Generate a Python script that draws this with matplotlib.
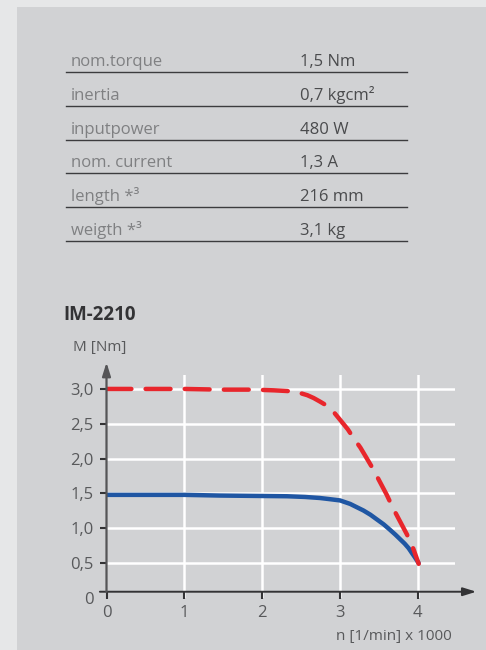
import matplotlib.pyplot as plt
from matplotlib.patches import Rectangle

plt.rcParams['font.family'] = ['Open Sans', 'DejaVu Sans']

# Spec table
spec_labels = ['nom.torque', 'inertia', 'inputpower', 'nom. current', 'length *³', 'weigth *³']
spec_values = ['1,5 Nm', '0,7 kgcm²', '480 W', '1,3 A', '216 mm', '3,1 kg']

# Torque curves (n in 1000 1/min, M in Nm)
peak_n = [0, 0.5, 1, 1.46, 1.89, 2.15, 2.32, 2.42, 2.49, 2.58, 2.66, 2.74, 2.83, 2.91, 3.02,
          3.1, 3.17, 3.26, 3.34, 3.43, 3.51, 3.6, 3.68, 3.77, 3.86, 3.94, 4.01]
peak_m = [3.0, 3.0, 3.0, 2.99, 2.99, 2.98, 2.97, 2.96, 2.94, 2.91, 2.87, 2.82, 2.76, 2.68, 2.53,
          2.42, 2.30, 2.16, 2.01, 1.84, 1.67, 1.48, 1.29, 1.10, 0.91, 0.71, 0.49]
nom_n = [0, 1, 1.46, 2.32, 2.55, 2.74, 2.87, 3.0, 3.13, 3.22, 3.30, 3.39, 3.47, 3.56, 3.64,
         3.71, 3.77, 3.83, 3.88, 3.92, 3.96, 4.01]
nom_m = [1.48, 1.48, 1.47, 1.46, 1.45, 1.435, 1.418, 1.40, 1.35, 1.30, 1.256, 1.195, 1.13, 1.057, 0.98,
         0.91, 0.845, 0.78, 0.716, 0.65, 0.586, 0.5]

y_ticks = [0, 0.5, 1.0, 1.5, 2.0, 2.5, 3.0]
y_ticklabels = ['0', '0,5', '1,0', '1,5', '2,0', '2,5', '3,0']
x_ticks = [0, 1, 2, 3, 4]
x_ticklabels = ['0', '1', '2', '3', '4']

W, H = 486, 650
fig = plt.figure(figsize=(W / 100, H / 100), dpi=100)
fig.patch.set_facecolor('#e6e7e8')
fig.patches.append(Rectangle((17 / W, 0), 1, 1 - 7 / H, transform=fig.transFigure,
                             facecolor='#d1d2d4', edgecolor='none', zorder=-1))

label_col = '#7f8082'
value_col = '#4a4b4d'
dark = '#333335'

# table rows
line_y = [72, 106, 140, 173, 207, 241]
for lab, val, ly in zip(spec_labels, spec_values, line_y):
    yb = 1 - (ly - 6) / H
    fig.text(71 / W, yb, lab, color=label_col, fontsize=12, va='baseline', ha='left')
    fig.text(300 / W, yb, val, color=value_col, fontsize=12, va='baseline', ha='left')
    fig.add_artist(plt.Line2D([66 / W, 407 / W], [1 - ly / H, 1 - ly / H],
                              color='#3c3c3e', lw=1.0, transform=fig.transFigure))

# chart title
fig.text(63 / W, 1 - 320 / H, 'IM-2210', color=dark, fontsize=13.5, fontweight='bold',
         va='baseline', ha='left')

ax = fig.add_axes([106.5 / W, 1 - 598 / H, 348 / W, 223 / H])
ax.set_zorder(3)
ax.set_facecolor('none')
ax.set_xlim(0, 4.47)
ax.set_ylim(0, 3.2)
for s in ax.spines.values():
    s.set_visible(False)

for yv in y_ticks[1:]:
    ax.axhline(yv, color='white', lw=1.8, zorder=1)
for xv in x_ticks[1:]:
    ax.axvline(xv, color='white', lw=1.8, zorder=1)

ax.plot(nom_n, nom_m, color='#1f56a3', lw=3.2, solid_capstyle='round', zorder=3)
ax.plot(peak_n, peak_m, color='#e8262c', lw=3.2, linestyle=(0, (5.6, 3.2)),
        dash_capstyle='round', zorder=4)

# axes drawn as arrows; the x axis sits slightly above zero like in the original
axis_y = 0.09
ax.spines['bottom'].set_position(('data', axis_y))
ax.annotate('', xy=(4.75, axis_y), xytext=(-0.085, axis_y), annotation_clip=False,
            arrowprops=dict(arrowstyle='-|>,head_length=0.8,head_width=0.25', color=dark, lw=1.4,
                            shrinkA=0, shrinkB=0), zorder=5)
ax.annotate('', xy=(0, 3.38), xytext=(0, axis_y), annotation_clip=False,
            arrowprops=dict(arrowstyle='-|>,head_length=0.8,head_width=0.25', color='#555557', lw=1.6,
                            shrinkA=0, shrinkB=0), zorder=5)

ax.set_yticks(y_ticks)
ax.set_yticklabels(y_ticklabels)
ax.set_xticks(x_ticks)
ax.set_xticklabels(x_ticklabels)
ax.tick_params(axis='both', direction='out', length=5, width=1.5, color=dark,
               labelcolor='#58595b', labelsize=12, pad=4.5)
ax.tick_params(axis='x', pad=4.5)
ax.yaxis.get_major_ticks()[0].tick1line.set_visible(False)

fig.text(73 / W, 1 - 351 / H, 'M [Nm]', color='#58595b', fontsize=11, va='baseline', ha='left')
fig.text(452 / W, 1 - 640 / H, 'n [1/min] x 1000', color='#58595b', fontsize=11,
         va='baseline', ha='right')

fig.savefig('out.png', dpi=100, facecolor=fig.get_facecolor())
